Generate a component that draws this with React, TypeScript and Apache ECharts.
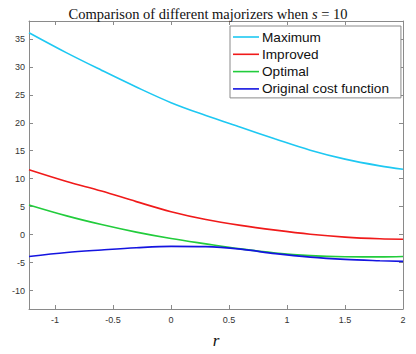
import React, { useEffect, useRef } from "react";
import * as echarts from "echarts";

const rValues = [-1.225, -0.9, -0.6, -0.3, 0, 0.3, 0.6, 0.9, 1.2, 1.5, 1.8, 2.0];
const maximumValues = [36.1, 32.5, 29.4, 26.4, 23.6, 21.3, 19.2, 17.1, 15.1, 13.5, 12.3, 11.7];
const improvedValues = [11.6, 9.5, 7.8, 5.9, 4.1, 2.7, 1.65, 0.8, 0.07, -0.45, -0.75, -0.82];
const optimalValues = [5.3, 3.35, 1.8, 0.45, -0.7, -1.65, -2.55, -3.28, -3.75, -3.95, -3.98, -3.9];
const originalValues = [-3.9, -3.2, -2.75, -2.35, -2.1, -2.15, -2.6, -3.4, -4.02, -4.42, -4.66, -4.78];

const xTicks = [-1, -0.5, 0, 0.5, 1, 1.5, 2];
const yTicks = [-10, -5, 0, 5, 10, 15, 20, 25, 30, 35];

const seriesNames = ["Maximum", "Improved", "Optimal", "Original cost function"];
const seriesColors = ["#1ec8f2", "#f01a1a", "#22cc3c", "#1414e0"];

const toPairs = (ys: number[]) => rValues.map((x, i) => [x, ys[i]]);

export default function App() {
  const ref = useRef<HTMLDivElement>(null);
  useEffect(() => {
    if (!ref.current) return;
    const chart = echarts.init(ref.current, undefined, { renderer: "svg" });
    const axisColor = "#8a8a8a";
    const labelColor = "#333333";
    const baseX = {
      type: "value" as const,
      min: -1.225,
      max: 2,
      axisLine: { show: true, onZero: false, lineStyle: { color: axisColor, width: 1 } },
      axisTick: { show: true, inside: true, length: 4, customValues: xTicks, lineStyle: { color: axisColor } },
      splitLine: { show: false },
    };
    const baseY = {
      type: "value" as const,
      min: -13.3,
      max: 38.2,
      axisLine: { show: true, onZero: false, lineStyle: { color: axisColor, width: 1 } },
      axisTick: { show: true, inside: true, length: 4, customValues: yTicks, lineStyle: { color: axisColor } },
      splitLine: { show: false },
    };
    const allData = [maximumValues, improvedValues, optimalValues, originalValues];
    chart.setOption({
      animation: false,
      backgroundColor: "#ffffff",
      title: {
        text: "Comparison of different majorizers when {i|s} = 10",
        left: "center",
        top: 1,
        textStyle: {
          fontFamily: "Liberation Serif",
          fontSize: 14.5,
          fontWeight: "normal",
          color: "#111",
          rich: {
            i: { fontFamily: "Liberation Serif", fontStyle: "italic", fontSize: 14.5, color: "#111" },
          },
        },
      },
      grid: { left: 29, right: 13, top: 21, bottom: 39, containLabel: false },
      legend: {
        orient: "vertical",
        left: 230,
        top: 26,
        itemWidth: 26,
        itemHeight: 14,
        itemGap: 3.3,
        padding: [4, 12, 2, 3],
        icon: "path://M0,0h26v1.6h-26z",
        borderColor: "#8a8a8a",
        borderWidth: 1,
        backgroundColor: "#ffffff",
        textStyle: { fontFamily: "Liberation Sans", fontSize: 13.6, color: "#111", padding: [0, 0, 0, -2] },
        data: seriesNames,
      },
      xAxis: [
        {
          ...baseX,
          position: "bottom",
          name: "r",
          nameLocation: "middle",
          nameGap: 23,
          nameTextStyle: { fontFamily: "Liberation Serif", fontStyle: "italic", fontSize: 17, color: "#111" },
          axisLabel: {
            customValues: xTicks,
            margin: 6,
            fontFamily: "Liberation Sans",
            fontSize: 9,
            color: labelColor,
          },
        },
        { ...baseX, position: "top", axisLabel: { show: false } },
      ],
      yAxis: [
        {
          ...baseY,
          position: "left",
          axisLabel: {
            customValues: yTicks,
            margin: 4,
            fontFamily: "Liberation Sans",
            fontSize: 9,
            color: labelColor,
          },
        },
        { ...baseY, position: "right", axisLabel: { show: false } },
      ],
      series: seriesNames.map((name, i) => ({
        name,
        type: "line",
        xAxisIndex: 0,
        yAxisIndex: 0,
        data: toPairs(allData[i]),
        smooth: 0.35,
        symbol: "none",
        showSymbol: false,
        color: seriesColors[i],
        lineStyle: { color: seriesColors[i], width: 1.6 },
        z: 2 + i,
      })),
    });
    return () => chart.dispose();
  }, []);
  return (
    <div
      ref={ref}
      style={{ position: "fixed", left: 0, top: 0, width: 416, height: 354 }}
    />
  );
}
